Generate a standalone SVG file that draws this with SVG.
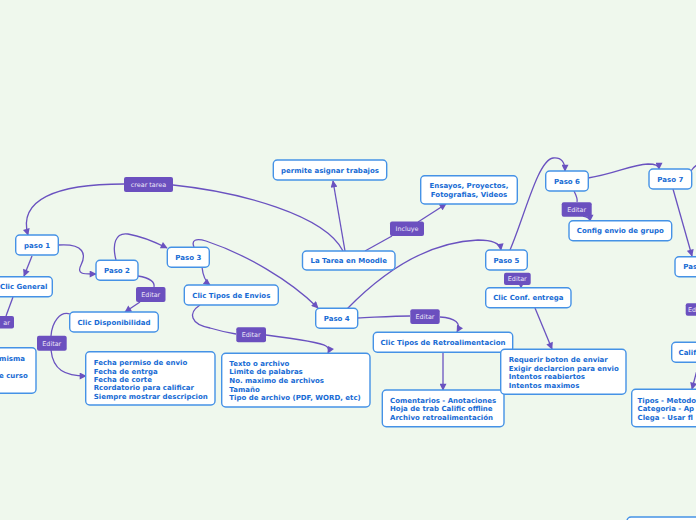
<svg xmlns="http://www.w3.org/2000/svg" width="696" height="520" viewBox="0 0 696 520">
<style>
.bg{fill:#eff8ed}
.box{fill:#ffffff;stroke:#4592e6;stroke-width:1.4}
.t{font-family:"DejaVu Sans","Liberation Sans",sans-serif;font-weight:bold;font-size:7px;fill:#176bd4}
.m{text-anchor:middle}
.e{text-anchor:end}
.lbl{fill:#6b50bf}
.lt{font-family:"DejaVu Sans","Liberation Sans",sans-serif;font-size:6.4px;fill:#ebe6f7;text-anchor:middle}
.c{fill:none;stroke:#6a52c0;stroke-width:1.3}
.a{marker-end:url(#ah)}
</style>
<defs>
<marker id="ah" viewBox="0 0 10 10" refX="9" refY="5" markerWidth="8" markerHeight="7" markerUnits="userSpaceOnUse" orient="auto">
<path d="M0,0 L10,5 L0,10 z" fill="#6a52c0"/>
</marker>
</defs>
<rect class="bg" x="0" y="0" width="696" height="520"/>

<g id="connectors">
<path class="c" d="M343,251 C325,215 240,192 173,185"/>
<path class="c a" d="M124,184 C55,184 18,200 28,235"/>
<path class="c a" d="M345,251 L333,181"/>
<path class="c" d="M365,251 L392,236"/>
<path class="c a" d="M418,222 L446,204"/>
<path class="c a" d="M194,247 C191,240 196,238 206,241 C245,254 290,280 318,308"/>
<path class="c a" d="M347,309 C385,270 430,242 478,240 C492,240 500,243 501,250"/>
<path class="c" d="M357,318 C380,317 395,316 410,316"/>
<path class="c a" d="M440,317 C455,318 462,323 457,332"/>
<path class="c a" d="M443,353 L443,390"/>
<path class="c a" d="M510,250 C525,215 538,160 553,158 C562,157 565,163 565,171"/>
<path class="c a" d="M521,284 L521,288"/>
<path class="c a" d="M535,308 L552,349"/>
<path class="c" d="M574,191 C576,195 578,199 577,202"/>
<path class="c a" d="M583,216 C588,217 590,218 590,221"/>
<path class="c a" d="M588,178 C615,174 630,165 648,164 C655,164 659,166 659,169"/>
<path class="c a" d="M673,189 L692,256"/>
<path class="c" d="M691,171 C693,168 695,166 697,165"/>
<path class="c a" d="M697,370 L692,389"/>
<path class="c a" d="M58,245 C85,243 86,255 81,265 C76,275 85,274 96,274"/>
<path class="c a" d="M32,256 L24,276"/>
<path class="c" d="M13,297 L6,316"/>
<path class="c a" d="M116,260 C112,245 115,232 128,234 C140,236 155,242 167,248"/>
<path class="c" d="M138,276 C150,278 155,282 154,287"/>
<path class="c a" d="M140,302 L125,312"/>
<path class="c" d="M70,314 C60,311 52,322 51,336"/>
<path class="c a" d="M51,350 C53,370 65,376 86,376"/>
<path class="c a" d="M202,267 C203,277 206,282 210,285"/>
<path class="c" d="M200,305 C188,313 190,324 210,328 C220,331 230,333 236,334"/>
<path class="c a" d="M266,335 C290,338 320,342 326,346 C329,348 329,351 328,353"/>
</g>

<g id="label-crear-tarea"><rect class="lbl" x="124" y="177" width="49" height="15" rx="2"/><text class="lt" x="148.5" y="187">crear tarea</text></g>
<g id="label-incluye"><rect class="lbl" x="390" y="221.5" width="34" height="14.5" rx="2"/><text class="lt" x="407" y="231">Incluye</text></g>
<g id="label-editar-paso2"><rect class="lbl" x="136" y="287" width="29.5" height="15" rx="2"/><text class="lt" x="150.8" y="297">Editar</text></g>
<g id="label-editar-disp"><rect class="lbl" x="37" y="335.7" width="29.7" height="15" rx="2"/><text class="lt" x="51.8" y="345.6">Editar</text></g>
<g id="label-editar-general"><rect class="lbl" x="-10" y="316" width="24" height="12.5" rx="2"/><text class="lt" x="6.5" y="325">ar</text></g>
<g id="label-editar-envios"><rect class="lbl" x="236.3" y="327.3" width="29.7" height="15" rx="2"/><text class="lt" x="251.2" y="337.2">Editar</text></g>
<g id="label-editar-paso4"><rect class="lbl" x="410.3" y="309.3" width="29.4" height="14.7" rx="2"/><text class="lt" x="425" y="319">Editar</text></g>
<g id="label-editar-paso5"><rect class="lbl" x="504" y="272.7" width="26.7" height="12.3" rx="2"/><text class="lt" x="517.3" y="281">Editar</text></g>
<g id="label-editar-paso6"><rect class="lbl" x="561.7" y="202.3" width="30" height="14.4" rx="2"/><text class="lt" x="576.7" y="212">Editar</text></g>
<g id="label-editar-paso8"><rect class="lbl" x="685.7" y="303.3" width="20" height="12.4" rx="2"/><text class="lt" x="692" y="312">Ed</text></g>

<g id="node-moodle"><rect class="box" x="302.5" y="251" width="92.5" height="19" rx="4"/><text class="t m" x="348.7" y="263.2">La Tarea en Moodle</text></g>
<g id="node-permite"><rect class="box" x="273.3" y="160" width="113.4" height="20" rx="4"/><text class="t m" x="330" y="172.6">permite asignar trabajos</text></g>
<g id="node-ensayos"><rect class="box" x="420.7" y="175.7" width="96.6" height="28.3" rx="4"/><text class="t m" x="469" y="188.2">Ensayos,  Proyectos,</text><text class="t m" x="469" y="197.2">Fotografias, Videos</text></g>
<g id="node-paso4"><rect class="box" x="315.7" y="308.3" width="42" height="20" rx="4"/><text class="t m" x="336.7" y="320.8">Paso 4</text></g>
<g id="node-paso5"><rect class="box" x="485.7" y="250" width="41.6" height="20" rx="4"/><text class="t m" x="506.5" y="262.6">Paso 5</text></g>
<g id="node-retro"><rect class="box" x="373.3" y="332.3" width="139.4" height="20" rx="4"/><text class="t m" x="443" y="344.8">Clic Tipos de Retroalimentacion</text></g>
<g id="node-comentarios"><rect class="box" x="382.3" y="390" width="121.7" height="36.7" rx="4"/><text class="t" x="390" y="402.5">Comentarios - Anotaciones</text><text class="t" x="390" y="411">Hoja de trab Calific offline</text><text class="t" x="390" y="419.6">Archivo retroalimentación</text></g>
<g id="node-conf"><rect class="box" x="485.7" y="287.7" width="85.3" height="20" rx="4"/><text class="t m" x="528.3" y="300.3">Clic Conf. entrega</text></g>
<g id="node-requerir"><rect class="box" x="500.7" y="349.3" width="125.3" height="45" rx="4"/><text class="t" x="508.7" y="362">Requerir boton de enviar</text><text class="t" x="508.7" y="370.7">Exigir declarcion para envio</text><text class="t" x="508.7" y="379.4">Intentos reabiertos</text><text class="t" x="508.7" y="388.1">Intentos maximos</text></g>
<g id="node-paso6"><rect class="box" x="545.7" y="171" width="42.6" height="20" rx="4"/><text class="t m" x="567" y="183.5">Paso 6</text></g>
<g id="node-config"><rect class="box" x="569" y="220.7" width="102.7" height="20" rx="4"/><text class="t m" x="620.3" y="233.2">Config envio de grupo</text></g>
<g id="node-paso7"><rect class="box" x="649" y="169" width="42.7" height="20" rx="4"/><text class="t m" x="670.3" y="181.5">Paso 7</text></g>
<g id="node-paso8"><rect class="box" x="675" y="256.7" width="40" height="20" rx="4"/><text class="t" x="683.3" y="269.2">Pas</text></g>
<g id="node-calif"><rect class="box" x="671.7" y="342.3" width="40" height="20" rx="4"/><text class="t" x="678.5" y="354.8">Calif</text></g>
<g id="node-tipos"><rect class="box" x="631.7" y="389.3" width="80" height="37.4" rx="4"/><text class="t" x="637.5" y="402.5">Tipos - Metodo</text><text class="t" x="637.5" y="411.1">Categoria - Ap</text><text class="t" x="637.5" y="419.7">Clega - Usar fl</text></g>
<g id="node-bottom"><rect class="box" x="627" y="517" width="90" height="20" rx="4"/></g>
<g id="node-paso3"><rect class="box" x="167.3" y="247.3" width="42" height="20" rx="4"/><text class="t m" x="188.3" y="259.8">Paso 3</text></g>
<g id="node-envios"><rect class="box" x="184.3" y="285" width="94" height="20" rx="4"/><text class="t m" x="231.3" y="297.5">Clic Tipos de Envios</text></g>
<g id="node-texto"><rect class="box" x="221.7" y="353.3" width="148.3" height="53.7" rx="4"/><text class="t" x="229.3" y="365.8">Texto o archivo</text><text class="t" x="229.3" y="374.4">Limite de palabras</text><text class="t" x="229.3" y="383">No. maximo de archivos</text><text class="t" x="229.3" y="391.6">Tamaño</text><text class="t" x="229.3" y="400.2">Tipo de archivo (PDF, WORD, etc)</text></g>
<g id="node-paso2"><rect class="box" x="96" y="260.3" width="42" height="20" rx="4"/><text class="t m" x="117" y="272.8">Paso 2</text></g>
<g id="node-disp"><rect class="box" x="69.7" y="312" width="88.6" height="20" rx="4"/><text class="t m" x="114" y="324.5">Clic Disponibilidad</text></g>
<g id="node-fecha"><rect class="box" x="85.7" y="351.7" width="129.3" height="53.3" rx="4"/><text class="t" x="93.7" y="365.2">Fecha permiso de envio</text><text class="t" x="93.7" y="373.6">Fecha de entrga</text><text class="t" x="93.7" y="382">Fecha de corte</text><text class="t" x="93.7" y="390.4">Rcordatorio para calificar</text><text class="t" x="93.7" y="398.8">Siempre mostrar descripcion</text></g>
<g id="node-paso1"><rect class="box" x="15.7" y="235" width="42.6" height="20" rx="4"/><text class="t m" x="37" y="247.5">paso 1</text></g>
<g id="node-general"><rect class="box" x="-20" y="276.7" width="72.3" height="20" rx="4"/><text class="t" x="0" y="289.2">Clic General</text></g>
<g id="node-misma"><rect class="box" x="-20" y="347.7" width="56" height="45.6" rx="4"/><text class="t e" x="25" y="361.2">misma</text><text class="t e" x="27.7" y="378">e curso</text></g>
</svg>
